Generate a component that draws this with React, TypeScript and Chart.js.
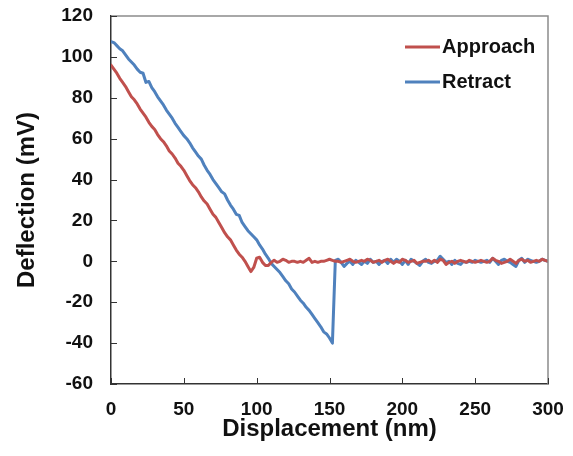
import React, { useEffect, useRef } from "react";
import { Chart, registerables } from "chart.js";

Chart.register(...registerables);

const displacement = [
  0, 2, 4, 6, 8, 10, 12, 14, 16, 18, 20, 22, 24, 26, 28, 30, 32, 34, 36, 38,
  40, 42, 44, 46, 48, 50, 52, 54, 56, 58, 60, 62, 64, 66, 68, 70, 72, 74, 76, 78,
  80, 82, 84, 86, 88, 90, 92, 94, 96, 98, 100, 102, 104, 106, 108, 110, 112, 114, 116, 118,
  120, 122, 124, 126, 128, 130, 132, 134, 136, 138, 140, 142, 144, 146, 148, 150, 152, 154, 156, 158,
  160, 162, 164, 166, 168, 170, 172, 174, 176, 178, 180, 182, 184, 186, 188, 190, 192, 194, 196, 198,
  200, 202, 204, 206, 208, 210, 212, 214, 216, 218, 220, 222, 224, 226, 228, 230, 232, 234, 236, 238,
  240, 242, 244, 246, 248, 250, 252, 254, 256, 258, 260, 262, 264, 266, 268, 270, 272, 274, 276, 278,
  280, 282, 284, 286, 288, 290, 292, 294, 296, 298, 300,
];

const approach = [
  96, 94, 92, 89.5, 87.5, 85.5, 83, 80.5, 79, 77, 74.5, 72.5, 70.5, 68, 66, 64.5, 62, 60, 58.5, 56.5,
  54, 52.5, 50.5, 48, 46.5, 44.5, 42, 39.5, 37.5, 36, 34, 31.5, 29.5, 28, 25.5, 23, 21.5, 19, 16.5, 14,
  12, 10.5, 8, 5.5, 3.5, 2, 0, -2.5, -5, -3, 1.5, 2, -0.5, -2, -2, -0.5, 0.5, -0.5, 0, 1,
  0.5, -0.5, 0, 0, -0.5, 0, -0.5, 0.5, 1.5, -0.5, 0, -0.5, 0, 0, 0.5, 1, 0.5, 0, 0, -0.5,
  0, 0.5, 1, 0, -0.5, 0, 0.5, 0, 1, 0.5, -0.5, 0, 0.5, -0.5, 0.5, 1, 0, -1, 0, -0.5,
  1, 0.5, -0.5, 0, 0.5, -1, -0.5, 0, 0, 0.5, -0.5, 0.5, -0.5, 1, 0.5, -1.5, -0.5, 0, -1, 0,
  0.5, 0, -0.5, 0.5, 0, -0.5, 0, 0.5, 0, -0.5, 0, 1.5, 0.5, 0, -1, -0.5, 0, 1, 0, -1,
  0.5, 1, 0, 0.5, -0.5, 0, 0.5, 0, 1, 0.5, 0,
];

const retract = [
  107.5, 107, 105.5, 104, 103, 101, 99, 97.5, 96, 94, 92.5, 92, 87.5, 88, 85, 83, 80.5, 78.5, 76.5, 74,
  72, 70, 67.5, 65.5, 63.5, 61.5, 60, 58, 55.5, 53.5, 51.5, 50, 47, 44.5, 42.5, 40, 38, 36, 34, 33,
  30, 27.5, 25.5, 23, 22.5, 19, 17, 15, 13.5, 12, 10.5, 8, 6, 3.5, 1.5, -1, -2.5, -4, -5.5, -7.5,
  -9.5, -11, -13.5, -15, -17, -19, -20.5, -22.5, -24, -26, -28, -30, -32, -34.5, -35.5, -37.5, -40, 0.5, 1, -0.5,
  -2.5, -1, 0, -1.5, 0.5, -0.5, -1.5, 0, -1, 1, -0.5, 0, -1.5, 0, 0.5, -1, 1, -0.5, 1, 0,
  -1.5, 0.5, -1.5, 1, 0, -1, -2, 0, 1, -0.5, -1, 0, 0.5, 2.5, 1, -0.5, 0, -1.5, 0.5, -1,
  -1.5, 0, -0.5, 0, -0.5, 0.5, 0, -0.5, 0, 0.5, -0.5, 1.5, 0, -1.5, 0.5, 1, 0, -0.5, -1.5, -2.5,
  0.5, 1.5, -0.5, 1, 0.5, 0, -0.5, 0, 1, 0.5, 0,
];

const seriesNames = ["Approach", "Retract"];
const seriesColors = ["#C0504D", "#4F81BD"];
const xAxisTitle = "Displacement (nm)";
const yAxisTitle = "Deflection (mV)";

const FONT = "'Liberation Sans', Arial, sans-serif";

export default function App() {
  const ref = useRef<HTMLCanvasElement>(null);

  useEffect(() => {
    document.body.style.margin = "0";
    const canvas = ref.current;
    if (!canvas) return;

    const zeroPad = (s: any) => {
      s.paddingTop = 0;
      s.paddingBottom = 0;
      s.paddingLeft = 0;
      s.paddingRight = 0;
    };

    const framePlugin = {
      id: "frame",
      afterDraw(chart: any) {
        const { ctx, chartArea } = chart;
        const { left, right, top, bottom } = chartArea;
        ctx.save();
        ctx.strokeStyle = "#8c8c8c";
        ctx.lineWidth = 1.5;
        ctx.beginPath();
        ctx.moveTo(left, top);
        ctx.lineTo(right, top);
        ctx.lineTo(right, bottom);
        ctx.stroke();
        ctx.strokeStyle = "#333";
        ctx.lineWidth = 1;
        const xs = chart.scales.x;
        const ys = chart.scales.y;
        xs.ticks.forEach((t: any) => {
          const px = Math.round(xs.getPixelForValue(t.value)) + 0.5;
          ctx.beginPath();
          ctx.moveTo(px, bottom);
          ctx.lineTo(px, bottom - 6);
          ctx.stroke();
        });
        ys.ticks.forEach((t: any) => {
          const py = Math.round(ys.getPixelForValue(t.value)) + 0.5;
          ctx.beginPath();
          ctx.moveTo(left, py);
          ctx.lineTo(left + 6, py);
          ctx.stroke();
        });
        ctx.font = `bold 20px ${FONT}`;
        ctx.textBaseline = "middle";
        ctx.textAlign = "left";
        chart.data.datasets.forEach((ds: any, i: number) => {
          const y = top + 31 + i * 35;
          ctx.strokeStyle = ds.borderColor;
          ctx.lineWidth = 3;
          ctx.beginPath();
          ctx.moveTo(right - 143, y);
          ctx.lineTo(right - 108, y);
          ctx.stroke();
          ctx.fillStyle = "#111";
          ctx.fillText(ds.label, right - 106, y);
        });
        ctx.restore();
      },
    };

    const chart = new Chart(canvas, {
      type: "line",
      data: {
        datasets: [approach, retract].map((vals, i) => ({
          label: seriesNames[i],
          data: vals.map((y, j) => ({ x: displacement[j], y })),
          borderColor: seriesColors[i],
          backgroundColor: seriesColors[i],
          borderWidth: 3,
          borderJoinStyle: "round",
          borderCapStyle: "round",
          pointRadius: 0,
          tension: 0,
          fill: false,
        })),
      },
      options: {
        animation: false,
        responsive: false,
        maintainAspectRatio: false,
        layout: { padding: { left: 0, right: 25, top: 16, bottom: 0 } },
        plugins: { legend: { display: false }, tooltip: { enabled: false } },
        scales: {
          x: {
            type: "linear",
            min: 0,
            max: 300,
            ticks: {
              stepSize: 50,
              padding: 14,
              maxRotation: 0,
              color: "#111",
              font: { family: FONT, size: 19, weight: "bold" },
            },
            grid: { display: false, drawTicks: false },
            border: { display: true, color: "#333", width: 1.5 },
            title: {
              display: true,
              text: xAxisTitle,
              color: "#111",
              font: { family: FONT, size: 24, weight: "bold" },
              padding: { top: 0, bottom: 12 },
            },
            afterFit: (s: any) => {
              s.height = 72;
              zeroPad(s);
            },
          },
          y: {
            type: "linear",
            min: -60,
            max: 120,
            ticks: {
              stepSize: 20,
              padding: 18,
              color: "#111",
              font: { family: FONT, size: 19, weight: "bold" },
            },
            grid: { display: false, drawTicks: false },
            border: { display: true, color: "#333", width: 1.5 },
            title: {
              display: true,
              text: yAxisTitle,
              color: "#111",
              font: { family: FONT, size: 24, weight: "bold" },
              padding: { top: 12.5, bottom: 0 },
            },
            afterFit: (s: any) => {
              s.width = 111;
              zeroPad(s);
            },
          },
        },
      } as any,
      plugins: [framePlugin],
    });

    return () => chart.destroy();
  }, []);

  return (
    <div style={{ width: 573, height: 456 }}>
      <canvas ref={ref} width={573} height={456} style={{ display: "block" }} />
    </div>
  );
}
